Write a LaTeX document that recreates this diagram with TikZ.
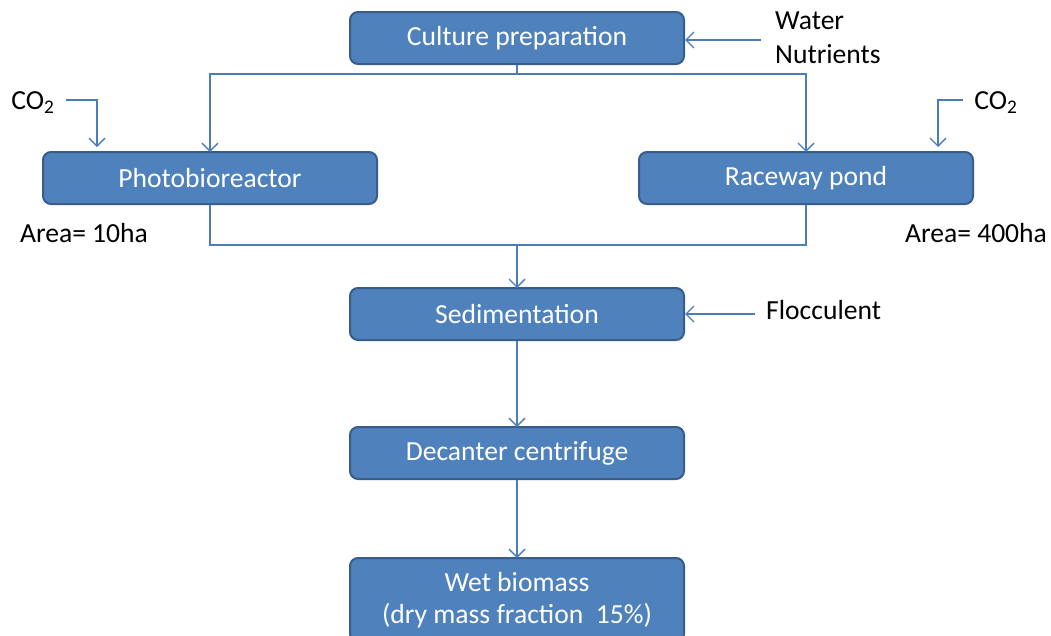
\documentclass[tikz,border=0pt]{standalone}
\usepackage{fontspec}
\setmainfont{Carlito}
\usetikzlibrary{arrows.meta}
\definecolor{boxfill}{HTML}{4F81BD}
\definecolor{boxline}{HTML}{385D8A}
\definecolor{conn}{HTML}{4A7EBB}
\tikzset{
  stepbox/.style={draw=boxline, line width=2pt, fill=boxfill, rounded corners=8pt,
    minimum width=334pt, minimum height=52pt, inner sep=0pt, text=white,
    font=\fontsize{27.6}{32}\selectfont, align=center},
  lbl/.style={inner sep=0pt, font=\fontsize{27.6}{34}\selectfont, text=black},
  conline/.style={draw=conn, line width=1.3pt},
  arr/.style={conline, -{Straight Barb[length=8pt,width=16pt,line width=1.3pt]}}
}
\begin{document}
\begin{tikzpicture}[x=1pt,y=-1pt]
\clip (0,0) rectangle (1051,635);
\fill[white] (0,0) rectangle (1051,635);
\node[stepbox] (cp) at (517,38) {Culture preparation};
\node[stepbox] (pbr) at (210,178) {Photobioreactor};
\node[stepbox] (rw) at (806,178) {Raceway pond};
\node[stepbox] (sed) at (517,314) {Sedimentation};
\node[stepbox] (dec) at (517,453) {Decanter centrifuge};
\node[stepbox, minimum height=84pt, anchor=north] (wb) at (517,557) {Wet biomass\\(dry mass fraction~~15\%)};

\node[lbl, anchor=west, align=left] (wn) at (775,38) {Water\\Nutrients};
\node[lbl, anchor=west] (fl) at (766,310) {Flocculent};
\node[lbl] (co2l) at (33,103) {CO\textsubscript{2}};
\node[lbl] (co2r) at (996,103) {CO\textsubscript{2}};
\node[lbl] (al) at (84,233) {Area= 10ha};
\node[lbl] (ar) at (976,233) {Area= 400ha};

\coordinate (wnin) at (761,40);
\coordinate (flin) at (755,314);
\coordinate (cls) at (66,100);
\coordinate (clt) at (97,147);
\coordinate (crs) at (963,100);
\coordinate (crt) at (938,147);
\coordinate (mg) at (517,245);

\draw[arr] (wnin) -- (cp.east |- wnin);
\draw[arr] (flin) -- (sed.east |- flin);
\draw[arr] (cls) -| (clt);
\draw[arr] (crs) -| (crt);
\draw[arr] (cp.south) -- ++(0,9) -| ([yshift=-1pt]pbr.north);
\draw[arr] (cp.south) -- ++(0,9) -| ([yshift=-1pt]rw.north);
\draw[conline] (pbr.south) -- (pbr.south |- mg) -- (rw.south |- mg) -- (rw.south);
\draw[arr] (mg) -- ([yshift=-1pt]sed.north);
\draw[arr] (sed.south) -- ([yshift=-1pt]dec.north);
\draw[arr] (dec.south) -- ([yshift=-1pt]wb.north);
\end{tikzpicture}
\end{document}
